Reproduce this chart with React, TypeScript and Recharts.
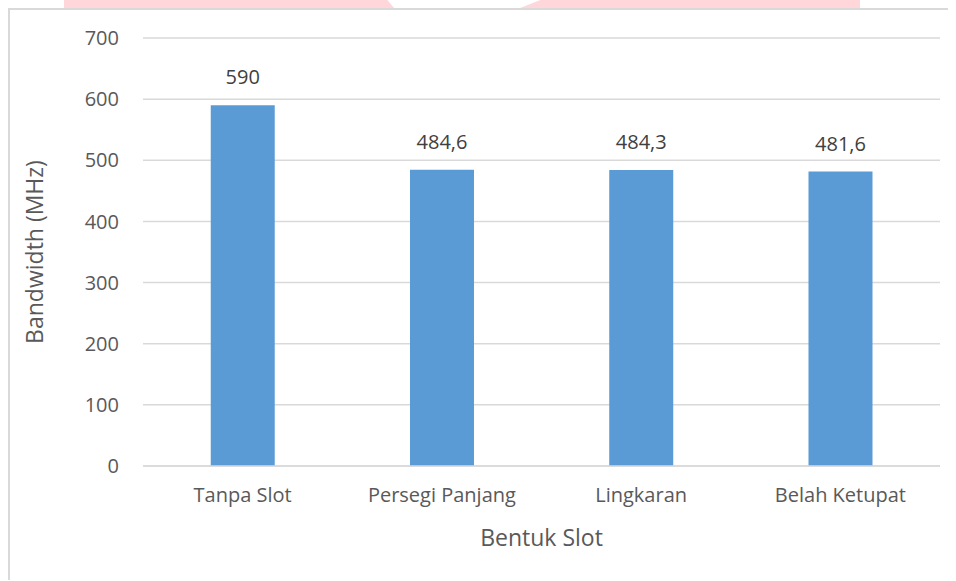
import { BarChart, Bar, XAxis, YAxis, CartesianGrid, LabelList } from "recharts";

const categories = ["Tanpa Slot", "Persegi Panjang", "Lingkaran", "Belah Ketupat"];
const bandwidth = [590, 484.6, 484.3, 481.6];
const yTicks = [0, 100, 200, 300, 400, 500, 600, 700];

const data = categories.map((name, i) => ({ name, bandwidth: bandwidth[i] }));

const FONT = "'Open Sans', 'Noto Sans', sans-serif";
const TEXT = "#595959";

const fmt = (v: any) => String(v).replace(".", ",");

export default function App() {
  return (
    <div style={{ position: "relative", width: 948, height: 572, fontFamily: FONT }}>
      {/* watermark fragment above the frame */}
      <div
        style={{
          position: "fixed",
          left: 64,
          top: 0,
          width: 330,
          height: 8,
          background: "#ffd6da",
          clipPath: "polygon(0 0, 98% 0, 100% 100%, 0 100%)",
          zIndex: 5,
        }}
      />
      <div
        style={{
          position: "fixed",
          left: 520,
          top: 0,
          width: 340,
          height: 8,
          background: "#ffd6da",
          clipPath: "polygon(6% 0, 100% 0, 100% 100%, 0 100%)",
          zIndex: 5,
        }}
      />
      <div
        style={{
          position: "absolute",
          left: 0,
          top: 0,
          width: 948,
          height: 572,
          borderLeft: "2px solid #d9d9d9",
          borderTop: "2px solid #d9d9d9",
          boxSizing: "border-box",
        }}
      />
      <BarChart
        width={948}
        height={572}
        data={data}
        margin={{ top: 30, right: 16, left: 0, bottom: 0 }}
        barCategoryGap="34%"
        style={{ position: "absolute", left: 0, top: 0 }}
      >
        <CartesianGrid vertical={false} stroke="#d9d9d9" strokeWidth={1.5} />
        <XAxis
          dataKey="name"
          height={114}
          axisLine={{ stroke: "#d9d9d9", strokeWidth: 1.5 }}
          tickLine={false}
          tickSize={0}
          tickMargin={22}
          tick={{ fill: TEXT, fontSize: 20, fontFamily: FONT }}
          label={({ viewBox }: any) => (
            <text
              x={viewBox.x + viewBox.width / 2}
              y={529}
              textAnchor="middle"
              dominantBaseline="central"
              fill={TEXT}
              fontSize={23}
              fontFamily={FONT}
            >
              Bentuk Slot
            </text>
          )}
        />
        <YAxis
          width={135}
          domain={[0, 700]}
          ticks={yTicks}
          axisLine={false}
          tickLine={false}
          tickSize={0}
          tickMargin={24}
          tick={{ fill: TEXT, fontSize: 20, fontFamily: FONT }}
          label={({ viewBox }: any) => {
            const cx = 26;
            const cy = viewBox.y + viewBox.height / 2;
            return (
              <text
                x={cx}
                y={cy}
                transform={`rotate(-90 ${cx} ${cy})`}
                textAnchor="middle"
                dominantBaseline="central"
                fill={TEXT}
                fontSize={23}
                fontFamily={FONT}
              >
                Bandwidth (MHz)
              </text>
            );
          }}
        />
        <Bar dataKey="bandwidth" fill="#5b9bd5" isAnimationActive={false}>
          <LabelList
            dataKey="bandwidth"
            position="top"
            offset={21}
            formatter={fmt}
            fill="#404040"
            fontSize={20}
            fontFamily={FONT}
          />
        </Bar>
      </BarChart>
    </div>
  );
}
